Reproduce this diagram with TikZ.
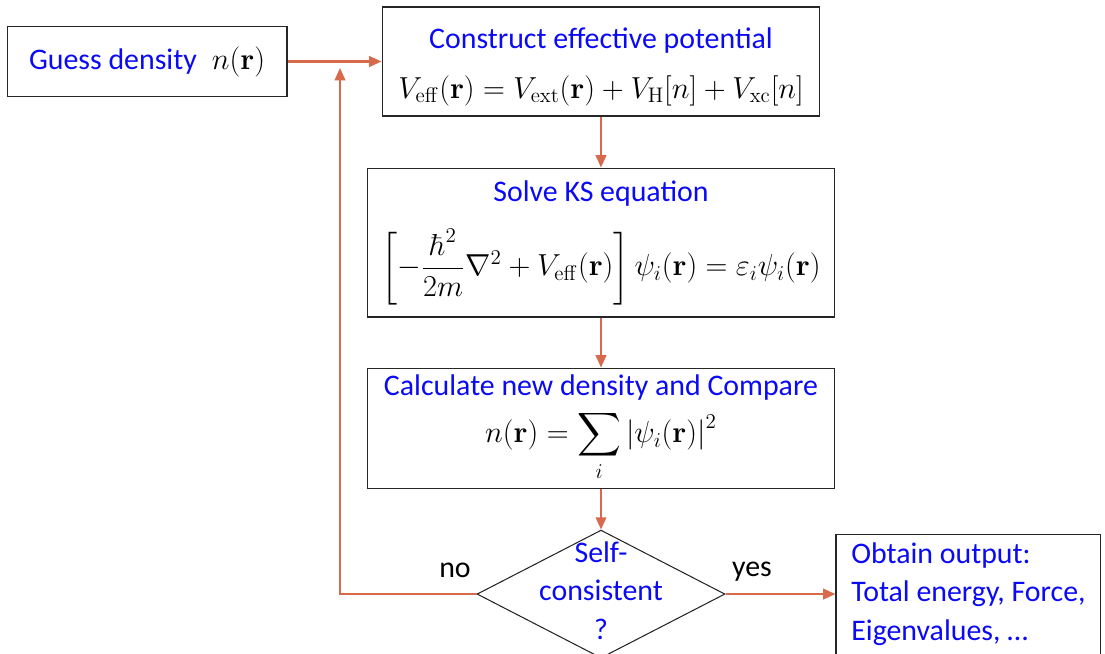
\documentclass[tikz,border=0pt]{standalone}
\usepackage[no-math]{fontspec}
\setmainfont{Carlito}
\usepackage{amsmath}
\usetikzlibrary{shapes.geometric,arrows.meta,positioning}
\definecolor{LoopRed}{HTML}{D8694B}
\definecolor{TitleBlue}{HTML}{0A0AF5}

\begin{document}
\begin{tikzpicture}[x=0.02cm,y=-0.02cm,
  box/.style={draw=black!85,line width=0.6pt,align=center,inner sep=0pt,font=\fontsize{17}{20}\selectfont},
  flow/.style={draw=LoopRed,line width=1.2pt,-{Triangle[length=7pt,width=6pt]}}]
  \useasboundingbox (0,0) rectangle (1105,653);
  % main column
  \node[box,minimum width=8.76cm,minimum height=2.18cm] (construct) at (601,61.5)
    {\rule{0pt}{18pt}\textcolor{TitleBlue}{Construct effective potential}\\[8pt]
     {\fontsize{17.5}{21}\selectfont $V_{\mathrm{eff}}(\mathbf{r})=V_{\mathrm{ext}}(\mathbf{r})+V_{\mathrm{H}}[n]+V_{\mathrm{xc}}[n]$}};
  \node[box,minimum width=9.36cm,minimum height=2.98cm,below=1.02cm of construct] (solve)
    {\textcolor{TitleBlue}{Solve KS equation}\\[12pt]
     {\fontsize{18}{21}\selectfont $\left[-\dfrac{\hbar^2}{2m}\nabla^2+V_{\mathrm{eff}}(\mathbf{r})\right]\psi_i(\mathbf{r})=\varepsilon_i\psi_i(\mathbf{r})$}};
  \node[box,minimum width=9.36cm,minimum height=2.4cm,below=1.0cm of solve] (calc)
    {\textcolor{TitleBlue}{Calculate new density and Compare}\\[5pt]
     {\fontsize{18}{21}\selectfont $\displaystyle n(\mathbf{r})=\sum_i\left|\psi_i(\mathbf{r})\right|^2$}};
  \node[box,diamond,minimum width=4.96cm,minimum height=2.56cm,below=0.82cm of calc,
    label={[align=center,font=\fontsize{17}{20}\selectfont,text=TitleBlue,yshift=2pt]center:Self-\\[2pt]consistent\\[2pt]?}] (check) {};
  % side boxes
  \node[box,minimum width=5.6cm,minimum height=1.4cm,left=1.88cm of construct] (guess)
    {\textcolor{TitleBlue}{Guess density}\enspace{\fontsize{18}{21}\selectfont $n(\mathbf{r})$}};
  \node[box,align=left,minimum width=5.3cm,minimum height=2.4cm,right=2.2cm of check,text=TitleBlue] (output)
    {Obtain output:\\[2pt]Total energy, Force,\\[2pt]Eigenvalues, \dots};
  \node[font=\fontsize{17}{20}\selectfont] (nolabel) at (455,570) {no};
  \node[font=\fontsize{17}{20}\selectfont] (yeslabel) at (752,572) {yes};
  \coordinate (loopend) at (340,68);
  % connectors
  \draw[flow] (guess) -- (construct);
  \draw[flow] (construct) -- (solve);
  \draw[flow] (solve) -- (calc);
  \draw[flow] (calc) -- (check);
  \draw[flow] (check) -- (output);
  \draw[flow] (check.west) -| (loopend);
\end{tikzpicture}
\end{document}
